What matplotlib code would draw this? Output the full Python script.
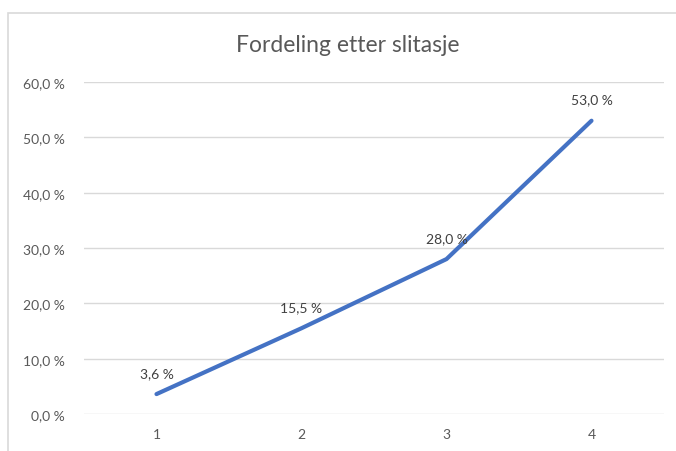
import matplotlib
matplotlib.use("Agg")
import matplotlib.pyplot as plt
from matplotlib.patches import Rectangle
from matplotlib.ticker import FuncFormatter

categories = ["1", "2", "3", "4"]
shares = [3.6, 15.5, 28.0, 53.0]
y_ticks = [0, 10, 20, 30, 40, 50, 60]
title = "Fordeling etter slitasje"

plt.rcParams["font.family"] = ["Lato", "DejaVu Sans"]

fig = plt.figure(figsize=(6.76, 4.52), dpi=100)
fig.patch.set_facecolor("white")

# chart frame
fig.patches.append(Rectangle((8 / 676, -0.05), 1.0, (452 - 14) / 452 + 0.05,
                             transform=fig.transFigure, fill=False,
                             edgecolor="#D9D9D9", linewidth=1.2))

ax = fig.add_axes([84 / 676, 37 / 452, 580 / 676, 332 / 452])
x = list(range(len(categories)))
ax.plot(x, shares, color="#4472C4", linewidth=3.0, solid_capstyle="round",
        solid_joinstyle="round", zorder=3)

for xi, v in zip(x, shares):
    ax.annotate(f"{v:.1f}".replace(".", ",") + " %", (xi, v),
                xytext=(0, 11), textcoords="offset points",
                ha="center", va="bottom", fontsize=10, color="#404040")

ax.set_xlim(-0.5, len(categories) - 0.5)
ax.set_ylim(0, 60)
ax.set_xticks(x)
ax.set_xticklabels(categories)
ax.set_yticks(y_ticks)
ax.yaxis.set_major_formatter(FuncFormatter(lambda v, p: f"{v:.1f}".replace(".", ",") + " %"))
ax.tick_params(axis="both", length=0, labelsize=10, labelcolor="#595959")
ax.tick_params(axis="x", pad=10)
ax.tick_params(axis="y", pad=14)
ax.grid(axis="y", color="#D9D9D9", linewidth=1.0)
ax.set_axisbelow(True)
for s in ax.spines.values():
    s.set_visible(False)

fig.text(348 / 676, (452 - 46) / 452, title, ha="center", va="center",
         fontsize=16.5, color="#595959")

fig.savefig("out.png", dpi=100)
